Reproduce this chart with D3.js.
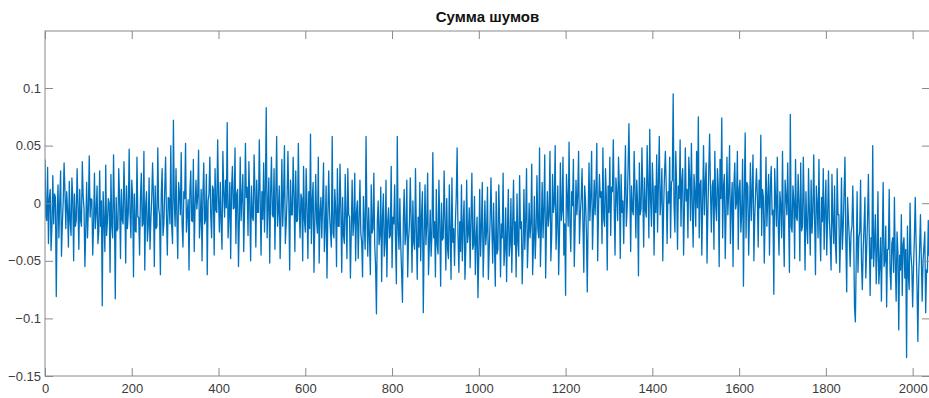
<!DOCTYPE html>
<html>
<head>
<meta charset="utf-8">
<script src="https://cdn.jsdelivr.net/npm/d3@7.9.0/dist/d3.min.js"></script>
<style>
  body { margin: 0; background: #fff; }
  text { font-family: "Liberation Sans", Arial, Helvetica, sans-serif; }
</style>
</head>
<body>
<div id="chart"></div>
<script>
// Сумма шумов: one value every 2 steps of the original index
const sampleStep = 2;
const noiseValues = [
  0.038, -0.012, -0.015, 0.031, -0.035, 0.004, 0.012, -0.041, -0.020, 0.024, -0.018, 0.008, 0.005, -0.081, -0.010, 0.016, -0.030, 0.002, 0.028, -0.046, -0.018, 0.002, 0.035, 0.010, -0.022, 0.010, -0.006, -0.038, 0.019, -0.016,
  -0.028, 0.022, 0.005, -0.050, 0.008, -0.020, -0.015, 0.030, -0.002, -0.040, 0.012, -0.015, -0.020, 0.036, 0.006, -0.005, -0.055, -0.022, 0.018, -0.030, -0.004, 0.041, -0.012, 0.004, 0.003, -0.045, -0.018, 0.026, -0.022, -0.008,
  0.015, -0.035, -0.025, 0.028, -0.020, 0.002, -0.089, 0.010, -0.015, -0.042, 0.033, -0.028, -0.015, 0.004, 0.000, -0.060, 0.025, -0.020, -0.030, 0.042, -0.006, -0.083, 0.005, -0.024, -0.022, 0.030, 0.003, -0.048, 0.012, -0.014,
  -0.018, 0.036, 0.002, -0.052, 0.015, -0.022, -0.008, 0.047, -0.008, -0.030, 0.020, 0.005, -0.064, 0.008, -0.024, -0.025, 0.040, -0.012, -0.012, -0.045, 0.004, 0.026, -0.020, -0.018, 0.045, -0.058, -0.002, 0.010, -0.033, -0.020,
  0.022, -0.040, -0.015, 0.004, 0.035, 0.006, -0.055, 0.015, -0.022, -0.020, 0.048, -0.004, -0.010, -0.062, 0.008, 0.030, -0.028, -0.018, 0.012, 0.040, -0.010, -0.045, 0.005, 0.004, -0.018, 0.050, -0.020, -0.035, 0.072, 0.002,
  -0.020, 0.030, -0.012, -0.048, 0.018, 0.008, -0.010, 0.044, -0.018, -0.038, 0.010, 0.004, 0.052, -0.025, -0.008, 0.003, -0.058, 0.010, 0.028, -0.015, -0.016, 0.038, -0.042, -0.002, 0.020, -0.005, 0.006, 0.046, -0.030, -0.014,
  0.012, -0.050, 0.008, 0.035, -0.018, -0.014, 0.025, -0.062, 0.002, 0.008, 0.040, -0.010, -0.030, 0.015, 0.012, -0.045, 0.030, -0.006, -0.008, 0.055, 0.004, -0.025, 0.018, -0.016, -0.040, 0.045, 0.010, -0.012, 0.020, -0.004,
  0.070, -0.030, -0.010, 0.018, -0.048, 0.012, 0.032, -0.005, -0.004, 0.048, -0.035, 0.008, 0.012, -0.055, -0.014, 0.040, -0.015, 0.006, 0.025, -0.042, -0.008, 0.052, 0.005, 0.014, -0.028, 0.036, 0.000, -0.050, 0.015, -0.012,
  -0.015, 0.042, 0.010, -0.038, 0.020, -0.008, -0.008, 0.055, 0.004, -0.045, 0.010, -0.014, 0.035, -0.025, 0.012, 0.083, -0.030, -0.002, 0.022, -0.052, 0.008, 0.040, -0.010, -0.012, 0.030, -0.040, 0.006, 0.058, -0.020, -0.006,
  0.015, -0.048, -0.012, 0.038, -0.020, 0.006, 0.050, -0.035, -0.018, 0.005, 0.045, 0.002, -0.058, 0.020, -0.010, -0.010, 0.040, 0.008, -0.042, 0.028, -0.016, -0.015, 0.052, -0.004, -0.030, 0.008, 0.004, -0.050, 0.032, -0.014,
  -0.025, 0.030, -0.004, -0.048, 0.010, -0.022, 0.060, -0.035, 0.002, 0.018, -0.060, -0.016, 0.025, -0.015, -0.026, 0.040, -0.052, -0.008, 0.005, -0.030, 0.000, 0.035, -0.042, -0.020, 0.015, -0.065, -0.010, 0.028, -0.010, -0.024,
  -0.038, 0.058, -0.026, -0.030, 0.012, -0.006, -0.055, 0.030, -0.020, -0.020, 0.034, -0.006, -0.060, 0.005, -0.028, -0.035, 0.025, -0.012, -0.048, 0.030, -0.010, -0.012, -0.065, -0.024, 0.020, -0.028, -0.016, 0.026, -0.050, -0.008,
  0.002, -0.048, -0.014, 0.020, -0.026, -0.034, -0.064, 0.006, -0.020, -0.040, 0.058, -0.010, -0.046, -0.004, -0.030, -0.062, 0.016, -0.026, -0.022, 0.026, -0.036, -0.054, -0.096, -0.016, 0.002, -0.036, -0.028, 0.014, -0.068, -0.012,
  0.008, -0.046, -0.034, 0.020, -0.064, -0.016, -0.004, -0.030, -0.028, 0.032, -0.056, -0.012, -0.018, 0.016, -0.034, -0.070, 0.058, -0.022, -0.040, 0.004, -0.036, -0.060, -0.086, -0.014, 0.012, -0.036, -0.026, 0.020, -0.064, -0.032,
  -0.018, 0.022, -0.014, -0.060, 0.002, -0.034, -0.040, 0.030, -0.024, -0.066, -0.012, -0.038, 0.018, -0.050, -0.010, 0.010, -0.095, -0.030, 0.016, -0.036, -0.018, 0.026, -0.062, -0.036, -0.006, -0.046, -0.026, 0.044, -0.030, -0.016,
  -0.064, 0.012, -0.036, -0.044, 0.020, -0.018, -0.072, 0.000, -0.032, -0.030, 0.028, -0.014, -0.058, 0.004, -0.040, -0.048, 0.016, -0.024, -0.066, 0.022, -0.034, -0.022, -0.054, -0.016, 0.006, 0.048, -0.028, -0.060, -0.016, -0.042,
  0.016, -0.050, -0.018, 0.002, -0.066, -0.040, 0.020, -0.034, -0.026, -0.004, -0.056, -0.014, 0.026, -0.040, -0.036, 0.006, -0.062, -0.030, -0.012, -0.082, -0.044, 0.012, -0.046, -0.020, 0.018, -0.064, -0.034, 0.002, -0.036, -0.024,
  0.014, -0.066, -0.040, -0.016, 0.022, -0.020, -0.052, 0.000, -0.034, -0.072, 0.010, -0.044, -0.040, 0.016, -0.016, -0.064, -0.018, -0.030, 0.026, -0.054, -0.040, -0.004, -0.068, -0.024, 0.012, -0.046, -0.036, 0.004, -0.060, -0.018,
  0.020, -0.036, -0.016, -0.064, 0.008, -0.034, -0.046, 0.024, -0.022, -0.016, -0.070, -0.038, 0.012, -0.040, -0.014, 0.030, -0.056, -0.030, 0.000, -0.030, -0.018, 0.034, -0.062, -0.036, 0.006, -0.048, -0.024, 0.024, -0.022, -0.030,
  0.048, -0.055, -0.024, 0.018, -0.030, -0.004, 0.042, -0.065, -0.020, 0.010, -0.020, -0.010, 0.045, -0.050, -0.028, 0.025, -0.008, 0.000, 0.050, -0.040, -0.016, 0.015, -0.062, -0.026, 0.035, -0.015, -0.006, 0.040, -0.045, -0.018,
  -0.080, 0.025, 0.004, -0.020, 0.053, -0.016, -0.042, 0.010, -0.002, 0.038, -0.055, -0.020, 0.020, -0.010, 0.008, 0.045, -0.035, -0.010, 0.005, 0.030, -0.018, -0.060, 0.015, 0.002, -0.025, -0.077, -0.012, 0.035, -0.015, 0.006,
  0.045, -0.040, -0.010, 0.020, -0.010, 0.012, 0.052, -0.050, -0.004, 0.025, 0.005, 0.010, -0.035, 0.048, -0.014, -0.020, 0.030, 0.004, -0.058, 0.015, -0.008, 0.040, -0.028, 0.014, 0.010, 0.055, -0.002, -0.045, 0.022, 0.008,
  -0.015, 0.040, 0.014, -0.048, 0.025, -0.008, 0.002, -0.035, 0.010, 0.050, -0.020, -0.004, 0.030, 0.069, 0.016, -0.042, 0.015, -0.006, -0.010, 0.045, 0.012, -0.030, 0.020, 0.000, -0.063, 0.035, -0.010, -0.005, 0.048, 0.008,
  -0.038, 0.022, -0.006, -0.012, 0.050, 0.016, -0.030, 0.064, 0.002, -0.020, 0.035, 0.012, -0.045, 0.015, -0.008, 0.042, -0.025, 0.018, 0.058, -0.010, 0.004, 0.030, -0.050, -0.004, 0.025, 0.045, 0.014, -0.035, 0.010, 0.000,
  0.040, -0.030, 0.018, 0.020, 0.095, -0.002, -0.025, 0.045, 0.014, -0.040, 0.015, 0.004, 0.055, -0.020, 0.020, 0.030, -0.045, -0.004, 0.048, 0.002, 0.012, -0.030, 0.040, 0.022, -0.015, 0.052, 0.000, -0.038, 0.025, 0.010,
  -0.020, 0.045, -0.004, 0.075, -0.030, 0.016, 0.020, -0.045, 0.002, 0.050, -0.010, 0.018, 0.035, -0.052, -0.006, 0.028, 0.060, 0.012, -0.025, 0.015, 0.020, -0.040, 0.045, -0.002, -0.015, 0.030, 0.014, -0.055, 0.038, 0.004,
  0.074, -0.030, 0.014, 0.025, -0.048, -0.006, 0.040, -0.010, 0.010, 0.050, -0.035, -0.002, 0.018, -0.055, 0.016, 0.035, -0.005, 0.000, 0.045, -0.040, 0.012, 0.020, -0.025, -0.008, 0.038, -0.072, 0.008, 0.061, -0.030, 0.018,
  0.015, -0.045, -0.008, 0.035, -0.015, 0.010, 0.042, -0.050, -0.012, 0.010, 0.030, 0.006, -0.038, 0.020, -0.004, 0.059, -0.028, 0.012, 0.005, -0.052, -0.010, 0.040, -0.020, 0.004, 0.025, -0.045, 0.014, 0.032, -0.010, -0.006,
  -0.079, 0.030, 0.004, -0.020, 0.040, -0.016, -0.045, 0.010, -0.002, -0.030, 0.045, -0.018, -0.055, 0.020, 0.006, -0.010, 0.035, -0.010, -0.060, 0.077, -0.020, -0.025, 0.015, 0.002, -0.048, 0.038, -0.012, -0.015, 0.025, 0.000,
  -0.050, 0.035, -0.024, -0.020, 0.040, -0.004, -0.058, 0.010, -0.020, -0.035, 0.030, -0.008, -0.045, 0.020, -0.026, -0.008, 0.042, -0.012, -0.062, 0.015, 0.000, -0.030, 0.038, -0.022, -0.050, 0.005, -0.016, 0.030, -0.040, -0.006,
  0.020, -0.045, -0.012, 0.028, -0.015, -0.032, -0.058, 0.025, -0.016, -0.035, 0.015, -0.036, -0.052, 0.030, -0.010, -0.010, -0.060, -0.028, 0.022, -0.040, -0.020, 0.010, 0.040, -0.034, -0.077, 0.005, -0.014, -0.030, -0.055, -0.026,
  -0.020, 0.015, -0.024, -0.090, -0.103, -0.046, 0.010, -0.060, -0.030, -0.025, 0.020, -0.050, -0.075, -0.040, -0.020, 0.005, -0.065, -0.040, -0.015, 0.025, -0.028, -0.080, -0.030, -0.048, 0.050, -0.055, -0.036, -0.010, -0.070, -0.044,
  0.010, -0.070, -0.056, -0.030, -0.085, -0.034, 0.018, -0.055, -0.050, -0.020, -0.090, -0.040, -0.040, 0.012, -0.060, -0.075, -0.035, -0.030, -0.060, 0.005, -0.052, -0.085, -0.025, -0.042, -0.110, -0.045, -0.058, -0.010, -0.080, -0.036,
  -0.030, -0.065, -0.040, -0.134, -0.020, -0.062, -0.075, 0.000, -0.044, -0.055, -0.090, -0.056, -0.030, 0.005, -0.036, -0.070, -0.120, -0.064, -0.040, -0.010, -0.048, -0.085, -0.050, -0.038, -0.025, -0.095, -0.058, -0.060, -0.015, -0.046
];
const xTicks = [0, 200, 400, 600, 800, 1000, 1200, 1400, 1600, 1800, 2000];
const yTicks = [-0.15, -0.1, -0.05, 0, 0.05, 0.1];
const xLimits = [0, 2040];
const yLimits = [-0.15, 0.1495];
const title = "Сумма шумов";

const width = 929, height = 398;
const margin = { top: 31, right: -1, bottom: 22, left: 45 };
const innerW = width - margin.left - margin.right;
const innerH = height - margin.top - margin.bottom;
const axisColor = "#8a8a8a";
const labelColor = "#3c3c3c";
const tickLen = 8;

const svg = d3.select("#chart").append("svg")
  .attr("width", width)
  .attr("height", height)
  .style("display", "block")
  .style("background", "#fff");

const g = svg.append("g").attr("transform", `translate(${margin.left},${margin.top})`);

const x = d3.scaleLinear().domain(xLimits).range([0, innerW]);
const y = d3.scaleLinear().domain(yLimits).range([innerH, 0]);

g.append("clipPath").attr("id", "plot-clip")
  .append("rect").attr("width", innerW).attr("height", innerH);

const line = d3.line()
  .x((d, i) => x(i * sampleStep))
  .y(d => y(d));

g.append("path")
  .datum(noiseValues)
  .attr("clip-path", "url(#plot-clip)")
  .attr("fill", "none")
  .attr("stroke", "#0072bd")
  .attr("stroke-width", 1.3)
  .attr("stroke-linejoin", "round")
  .attr("d", line);

function styleAxis(sel) {
  sel.select(".domain").remove();
  sel.selectAll(".tick line").attr("stroke", axisColor);
  sel.selectAll(".tick text")
    .attr("fill", labelColor)
    .style("font-size", "13px");
}

// bottom axis, ticks pointing inward
g.append("g")
  .attr("transform", `translate(0,${innerH})`)
  .call(d3.axisBottom(x).tickValues(xTicks).tickSize(-tickLen).tickPadding(8).tickFormat(d3.format("d")))
  .call(styleAxis);

// top ticks, no labels
g.append("g")
  .call(d3.axisTop(x).tickValues(xTicks).tickSize(-tickLen).tickFormat(""))
  .call(styleAxis);

// left axis
g.append("g")
  .call(d3.axisLeft(y).tickValues(yTicks).tickSize(-tickLen).tickPadding(4).tickFormat(d => d3.format("")(+d.toFixed(2))))
  .call(styleAxis);

// right ticks, no labels
g.append("g")
  .attr("transform", `translate(${innerW},0)`)
  .call(d3.axisRight(y).tickValues(yTicks).tickSize(-tickLen).tickFormat(""))
  .call(styleAxis);

// axes box
g.append("rect")
  .attr("width", innerW)
  .attr("height", innerH)
  .attr("fill", "none")
  .attr("stroke", axisColor)
  .attr("stroke-width", 1);

svg.append("text")
  .attr("x", margin.left + innerW / 2)
  .attr("y", 22)
  .attr("text-anchor", "middle")
  .attr("fill", "#111")
  .style("font-size", "15px")
  .style("font-weight", "bold")
  .text(title);
</script>
</body>
</html>
